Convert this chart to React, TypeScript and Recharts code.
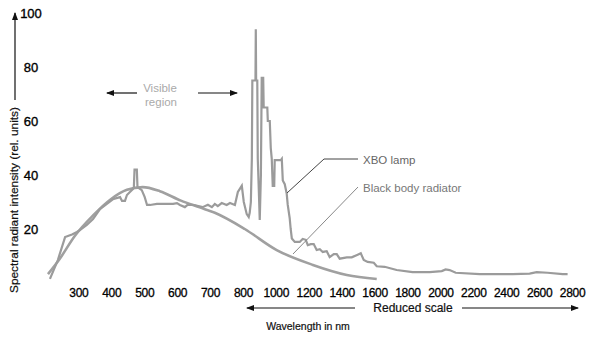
import React from 'react';
import { LineChart, Line, XAxis, YAxis } from 'recharts';

// wavelength tick labels (axis is compressed above 800 nm)
const xTickLabels = [300, 400, 500, 600, 700, 800, 1000, 1200, 1400, 1600, 1800, 2000, 2200, 2400, 2600, 2800];
const yTicks = [20, 40, 60, 80, 100];

// XBO lamp spectrum
const lampNm = [
  212, 236, 258, 279, 294, 303, 324, 343, 364, 385, 403, 425, 431, 440, 446, 455, 464, 467, 469, 476,
  478, 491, 500, 507, 516, 537, 586, 598, 607, 622, 631, 650, 676, 692, 704, 713, 722, 734, 749, 759,
  774, 783, 795, 802, 820, 832, 838, 845, 851, 854, 869, 873, 875, 877, 884, 887, 893, 899, 906, 911,
  920, 923, 945, 948, 960, 966, 972, 978, 987, 990, 1027, 1033, 1039, 1051, 1063, 1069, 1081, 1087, 1094, 1112,
  1142, 1160, 1179, 1191, 1209, 1227, 1245, 1264, 1282, 1306, 1324, 1349, 1367, 1385, 1428, 1458, 1494, 1513, 1531, 1555,
  1592, 1610, 1658, 1731, 1828, 1932, 2005, 2029, 2053, 2090, 2236, 2436, 2539, 2582, 2648, 2740, 2770,
];
const lampIntensity = [
  1.5, 8.5, 17, 18, 18.9, 19.6, 21.5, 23.7, 27.4, 29.3, 31, 31.8, 30.4, 30.4, 32.6, 33.7, 34.8, 35.5, 42, 42,
  35.5, 34.4, 31.8, 28.9, 28.9, 29.3, 29.3, 29.6, 28.9, 28.1, 29, 28.9, 28.1, 29, 28.1, 29.3, 28.5, 29.6, 28.9, 29.6,
  28.9, 33.7, 36, 30, 25.5, 24.4, 26, 30, 46, 75, 75, 75, 94, 75, 75, 46, 35, 23.3, 40, 76,
  76, 65, 65, 60, 60, 50, 46, 36, 36, 45.5, 45.5, 46, 38, 36.6, 33, 29, 24, 20, 16.5, 15.2,
  15.2, 16.3, 16, 14, 14.4, 14.4, 12.2, 12.5, 11.5, 11.8, 9.6, 10.7, 10.7, 9, 9.5, 9.5, 10.5, 11, 8.5, 7.8,
  7.5, 6.2, 6, 4.8, 4, 4, 4.4, 5, 4.8, 3.8, 3.3, 3.3, 3.5, 4, 3.8, 3.3, 3.3,
];

// black body radiator curve
const bodyNm = [206, 242, 288, 343, 397, 446, 494, 546, 610, 667, 713, 808, 1002, 1222, 1428, 1610];
const bodyIntensity = [3.3, 9, 17.5, 25, 31, 34.5, 35.5, 34, 30.5, 28, 26, 20, 12.2, 6.7, 3, 1.5];

// position on the piecewise axis: 100 nm per step up to 800, 200 nm per step after
function toPos(nm: number): number {
  return nm <= 800 ? (nm - 300) / 100 : 5 + (nm - 800) / 200;
}

const lampData = lampNm.map((nm, i) => ({ pos: toPos(nm), value: lampIntensity[i] }));
const bodyData = bodyNm.map((nm, i) => ({ pos: toPos(nm), value: bodyIntensity[i] }));

const tickFont = '"Liberation Sans", Arial, sans-serif';

function YTick(props: any) {
  const { y, payload } = props;
  return (
    <text x={31} y={y} dy="0.36em" textAnchor="middle" fontFamily={tickFont} fontSize={13} fill="#000" stroke="#000" strokeWidth={0.35}>
      {payload.value}
    </text>
  );
}

function XTick(props: any) {
  const { x, y, payload } = props;
  return (
    <text x={x} y={y + 10} dy="0.36em" textAnchor="middle" fontFamily={tickFont} fontSize={12} fill="#000" stroke="#000" strokeWidth={0.3} letterSpacing={-0.3}>
      {xTickLabels[payload.value]}
    </text>
  );
}

function Annotations() {
  return (
    <svg
      width={593}
      height={338}
      style={{ position: 'absolute', left: 0, top: 0, pointerEvents: 'none' }}
      fontFamily={tickFont}
    >
      <defs>
        <marker id="ah" markerWidth="8" markerHeight="6" refX="7" refY="3" orient="auto" markerUnits="userSpaceOnUse">
          <path d="M0,0 L8,3 L0,6 z" fill="#111" />
        </marker>
      </defs>

      {/* y axis title with arrow */}
      <line x1={15} y1={100} x2={15} y2={13} stroke="#111" strokeWidth={1.2} markerEnd="url(#ah)" />
      <text
        x={0}
        y={0}
        transform="translate(18,200) rotate(-90)"
        textAnchor="middle"
        fontSize={11}
        fill="#111"
        stroke="#111"
        strokeWidth={0.2}
        textLength={186}
        lengthAdjust="spacingAndGlyphs"
      >
        Spectral radiant intensity (rel. units)
      </text>

      {/* visible region */}
      <line x1={137} y1={93} x2={107} y2={93} stroke="#111" strokeWidth={1.2} markerEnd="url(#ah)" />
      <line x1={198} y1={93} x2={237} y2={93} stroke="#111" strokeWidth={1.2} markerEnd="url(#ah)" />
      <text x={160} y={92} textAnchor="middle" fontSize={11.5} fill="#aaa">Visible</text>
      <text x={161} y={106} textAnchor="middle" fontSize={11.5} fill="#aaa">region</text>

      {/* series callouts */}
      <polyline points="287,193 324,159 358,159" fill="none" stroke="#444" strokeWidth={1} />
      <text x={363} y={164} fontSize={11.5} fill="#666">XBO lamp</text>
      <line x1={293} y1={254} x2={358} y2={187} stroke="#888" strokeWidth={1} />
      <text x={363} y={192} fontSize={11.5} fill="#777">Black body radiator</text>

      {/* reduced scale + axis title */}
      <line x1={355} y1={308} x2={247} y2={308} stroke="#111" strokeWidth={1.2} markerEnd="url(#ah)" />
      <line x1={462} y1={308} x2={578} y2={308} stroke="#111" strokeWidth={1.2} markerEnd="url(#ah)" />
      <text x={413} y={312} textAnchor="middle" fontSize={12} fill="#111" stroke="#111" strokeWidth={0.2}>Reduced scale</text>
      <text x={308} y={330} textAnchor="middle" fontSize={10.5} fill="#111" stroke="#111" strokeWidth={0.2}>Wavelength in nm</text>
    </svg>
  );
}

export default function App() {
  return (
    <div style={{ position: 'absolute', left: 0, top: 0, width: 593, height: 338, background: '#fff' }}>
      <LineChart width={593} height={338} margin={{ top: 13, right: 4, bottom: 25, left: 0 }}>
        <XAxis
          type="number"
          dataKey="pos"
          domain={[-1, 15.5]}
          ticks={xTickLabels.map((_, i) => i)}
          tick={<XTick />}
          axisLine={false}
          tickLine={false}
          tickSize={0}
          tickMargin={0}
          height={30}
          allowDuplicatedCategory={false}
        />
        <YAxis
          type="number"
          domain={[0, 100]}
          ticks={yTicks}
          tick={<YTick />}
          axisLine={false}
          tickLine={false}
          width={46}
        />
        <Line
          data={bodyData}
          dataKey="value"
          type="monotone"
          stroke="#a0a0a0"
          strokeWidth={2.6}
          dot={false}
          isAnimationActive={false}
        />
        <Line
          data={lampData}
          dataKey="value"
          type="linear"
          stroke="#9b9b9b"
          strokeWidth={2.2}
          dot={false}
          isAnimationActive={false}
        />
      </LineChart>
      <Annotations />
    </div>
  );
}
